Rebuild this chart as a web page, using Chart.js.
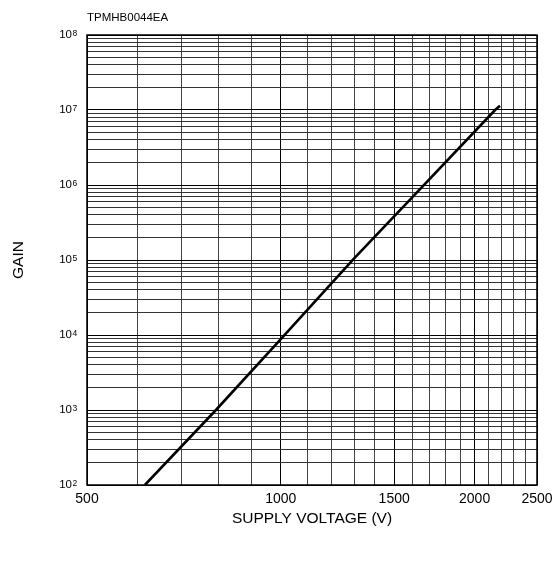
<!DOCTYPE html>
<html>
<head>
<meta charset="utf-8">
<script src="https://cdn.jsdelivr.net/npm/chart.js@4/dist/chart.umd.min.js"></script>
<style>
  html, body { margin: 0; padding: 0; background: #fff; }
  #wrap { width: 553px; height: 561px; }
</style>
</head>
<body>
<div id="wrap"><canvas id="gainChart"></canvas></div>
<script>
// supply voltage (V) vs gain
const voltage = [615, 793, 1000, 1300, 1600, 2152, 2190];
const gain = [1e2, 1e3, 8.8e3, 1.05e5, 6.85e5, 1e7, 1.14e7];

// x axis grid every 100 V, labels only on some
const xTicks = [500, 600, 700, 800, 900, 1000, 1100, 1200, 1300, 1400, 1500,
    1600, 1700, 1800, 1900, 2000, 2100, 2200, 2300, 2400, 2500];
const xLabels = [500, 1000, 1500, 2000, 2500];

// y axis decades and the minor lines inside each one
const yExponents = [2, 3, 4, 5, 6, 7, 8];
const yMinor = [1, 2, 3, 4, 5, 6, 7, 8, 9];

const FONT = 'Arial, "Liberation Sans", sans-serif';

let yTicks = [];
yExponents.forEach(function (e, i) {
    if (i === yExponents.length - 1) {
        yTicks.push(Math.pow(10, e));
    } else {
        yMinor.forEach(m => yTicks.push(m * Math.pow(10, e)));
    }
});

function isDecade(v) {
    const e = Math.round(Math.log10(v));
    return Math.abs(v - Math.pow(10, e)) < 1e-6 * v;
}

// frame around the plot area + exponents of the y labels
const frame = {
    id: 'frame',
    afterDraw(chart) {
        const a = chart.chartArea;
        const ctx = chart.ctx;
        ctx.save();
        ctx.strokeStyle = '#000';
        ctx.lineWidth = 1.5;
        ctx.strokeRect(a.left, a.top, a.right - a.left, a.bottom - a.top);

        const ys = chart.scales.y;
        ctx.fillStyle = '#000';
        ctx.font = '8.5px ' + FONT;
        ctx.textAlign = 'left';
        ctx.textBaseline = 'alphabetic';
        yExponents.forEach(function (e) {
            const py = ys.getPixelForValue(Math.pow(10, e));
            ctx.fillText(String(e), a.left - 14.5, py + 1);
        });
        ctx.restore();
    }
};

const ctx = document.getElementById('gainChart').getContext('2d');
let gainChart = new Chart(ctx, {
    type: 'line',
    data: {
        datasets: [{
            data: voltage.map((v, i) => ({x: v, y: gain[i]})),
            borderColor: '#000',
            borderWidth: 2.6,
            pointRadius: 0,
            fill: false,
            tension: 0
        }]
    },
    options: {
        responsive: true,
        maintainAspectRatio: false,
        animation: false,
        layout: { padding: { left: 0, right: 0, top: 0, bottom: 0 } },
        plugins: {
            legend: { display: false },
            tooltip: { enabled: false },
            title: {
                display: true,
                text: 'TPMHB0044EA',
                align: 'start',
                fullSize: false,
                color: '#000',
                font: { family: FONT, size: 11.5, weight: 'normal' },
                padding: { top: 10.6, bottom: 10.6 }
            }
        },
        scales: {
            x: {
                type: 'logarithmic',
                min: 500,
                max: 2500,
                afterBuildTicks: scale => { scale.ticks = xTicks.map(v => ({value: v})); },
                afterFit: scale => {
                    scale.height = 76;
                    scale.paddingLeft = 0;
                    scale.paddingRight = 16;
                },
                grid: {
                    drawTicks: false,
                    color: c => xLabels.includes(c.tick && c.tick.value) ? '#000' : '#444',
                    lineWidth: 1
                },
                border: { display: false },
                ticks: {
                    autoSkip: false,
                    maxRotation: 0,
                    padding: 6,
                    color: '#000',
                    font: { family: FONT, size: 14 },
                    callback: v => xLabels.includes(v) ? String(v) : ''
                },
                title: {
                    display: true,
                    text: 'SUPPLY VOLTAGE (V)',
                    color: '#000',
                    font: { family: FONT, size: 15.5 },
                    padding: { top: 0, bottom: 33 }
                }
            },
            y: {
                type: 'logarithmic',
                min: 1e2,
                max: 1e8,
                afterBuildTicks: scale => { scale.ticks = yTicks.map(v => ({value: v})); },
                afterFit: scale => { scale.width = 87; },
                grid: {
                    drawTicks: false,
                    color: c => (c.tick && isDecade(c.tick.value)) ? '#000' : '#333',
                    lineWidth: 1
                },
                border: { display: false },
                ticks: {
                    autoSkip: false,
                    padding: 15,
                    color: '#000',
                    font: { family: FONT, size: 11.5 },
                    callback: v => isDecade(v) ? '10' : ''
                },
                title: {
                    display: true,
                    text: 'GAIN',
                    color: '#000',
                    font: { family: FONT, size: 15.5 },
                    padding: { top: 9, bottom: 0 }
                }
            }
        }
    },
    plugins: [frame]
});
</script>
</body>
</html>
